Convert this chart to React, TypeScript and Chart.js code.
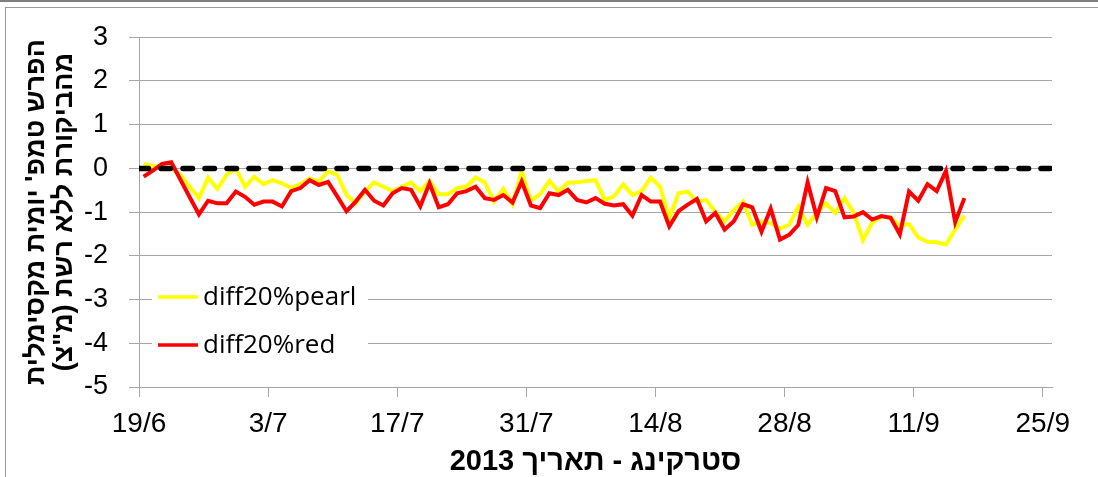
import { useEffect, useRef } from "react";
import { Chart, registerables } from "chart.js";

Chart.register(...registerables);

// Days counted from 19/6/2013 (day 0). Excel's date axis centres each day's point inside its day slot.
const tickDays = [0, 14, 28, 42, 56, 70, 84, 98];
const tickLabels = ["19/6", "3/7", "17/7", "31/7", "14/8", "28/8", "11/9", "25/9"];
const axisStartDay = 0;
const axisEndDay = 99;
const yMin = -5;
const yMax = 3;

const seriesNames = ["diff20%pearl", "diff20%red"];

const pearlValues = [
  0.1, 0.06, 0.04, 0.0, -0.15, -0.42, -0.68, -0.21, -0.47, -0.15,
  0.0, -0.42, -0.19, -0.36, -0.27, -0.34, -0.45, -0.36, -0.23, -0.3,
  -0.07, -0.15, -0.61, -0.8, -0.53, -0.32, -0.42, -0.52, -0.42, -0.32,
  -0.52, -0.29, -0.59, -0.59, -0.45, -0.42, -0.21, -0.32, -0.76, -0.47,
  -0.82, -0.06, -0.74, -0.59, -0.29, -0.53, -0.33, -0.32, -0.29, -0.27,
  -0.72, -0.64, -0.36, -0.61, -0.52, -0.21, -0.42, -1.14, -0.57, -0.53,
  -0.76, -0.72, -1.0, -1.21, -0.95, -0.76, -1.29, -1.21, -1.25, -1.38,
  -1.29, -0.87, -1.29, -1.02, -0.8, -1.02, -0.68, -1.02, -1.64, -1.24,
  -1.1, -1.12, -1.32, -1.27, -1.58, -1.68, -1.69, -1.74, -1.4, -1.08,
];

const redValues = [
  -0.19, -0.05, 0.1, 0.14, -0.26, -0.66, -1.05, -0.74, -0.8, -0.8,
  -0.53, -0.65, -0.83, -0.76, -0.76, -0.87, -0.52, -0.45, -0.27, -0.38,
  -0.31, -0.64, -0.98, -0.76, -0.49, -0.74, -0.85, -0.57, -0.45, -0.49,
  -0.87, -0.34, -0.89, -0.82, -0.57, -0.52, -0.42, -0.68, -0.72, -0.61,
  -0.78, -0.3, -0.85, -0.91, -0.57, -0.61, -0.49, -0.72, -0.78, -0.68,
  -0.81, -0.85, -0.82, -1.08, -0.61, -0.76, -0.76, -1.33, -0.98, -0.83,
  -0.7, -1.21, -1.02, -1.4, -1.21, -0.82, -0.89, -1.45, -0.92, -1.63,
  -1.52, -1.29, -0.32, -1.12, -0.45, -0.52, -1.12, -1.1, -1.0, -1.17,
  -1.09, -1.13, -1.51, -0.53, -0.74, -0.36, -0.52, -0.06, -1.23, -0.68,
];

const zeroLineDays = [0, 99];
const zeroLineValues = [0, 0];

const yTitleLines = ["הפרש טמפ' יומית מקסימלית", "\u200Fמהביקורת ללא רשת (מ\"צ)\u200F"];
const xTitle = "\u200Fסטרקינג - תאריך 2013\u200F";

const PEARL = "#FFFF00";
const RED = "#FF0000";
const GRID = "#a6a6a6";
const SANS = "'Liberation Sans', Arial, 'DejaVu Sans', sans-serif";

const toPoints = (vals: number[]) => vals.map((v, i) => ({ x: i + 0.5, y: v }));

const insideLegend = {
  id: "insideLegend",
  afterDraw(chart: any) {
    const ctx = chart.ctx as CanvasRenderingContext2D;
    const items = [
      { label: seriesNames[0], color: PEARL },
      { label: seriesNames[1], color: RED },
    ];
    ctx.save();
    ctx.fillStyle = "#ffffff";
    ctx.fillRect(152, 272, 216, 96);
    items.forEach((it, i) => {
      const y = 297 + i * 48;
      ctx.strokeStyle = it.color;
      ctx.lineWidth = 3.5;
      ctx.beginPath();
      ctx.moveTo(158, y);
      ctx.lineTo(198, y);
      ctx.stroke();
      ctx.fillStyle = "#000000";
      ctx.font = "26px 'Open Sans', 'Noto Sans', sans-serif";
      ctx.textBaseline = "middle";
      ctx.textAlign = "left";
      ctx.fillText(it.label, 203, y + 1);
    });
    ctx.restore();
  },
};

export default function App() {
  const ref = useRef<HTMLCanvasElement | null>(null);

  useEffect(() => {
    if (!ref.current) return;
    const chart = new Chart(ref.current, {
      type: "line",
      data: {
        datasets: [
          {
            label: seriesNames[0],
            data: toPoints(pearlValues),
            borderColor: PEARL,
            borderWidth: 4,
            pointRadius: 0,
            tension: 0,
            order: 3,
          },
          {
            label: seriesNames[1],
            data: toPoints(redValues),
            borderColor: RED,
            borderWidth: 4,
            pointRadius: 0,
            tension: 0,
            order: 2,
          },
          {
            label: "zero",
            data: zeroLineDays.map((d, i) => ({ x: d, y: zeroLineValues[i] })),
            borderColor: "#000000",
            borderWidth: 5.5,
            borderDash: [9.5, 12.5],
            borderCapStyle: "round",
            pointRadius: 0,
            order: 1,
          },
        ],
      },
      options: {
        animation: false,
        responsive: false,
        devicePixelRatio: 1,
        layout: { padding: { left: 0, top: 35, right: 46, bottom: 0 } },
        plugins: {
          legend: { display: false },
          tooltip: { enabled: false },
        },
        scales: {
          x: {
            type: "linear",
            min: axisStartDay,
            max: axisEndDay,
            afterBuildTicks: (s: any) => {
              s.ticks = tickDays.map((v) => ({ value: v }));
            },
            afterFit: (s: any) => {
              s.height = 90;
            },
            grid: {
              display: true,
              drawOnChartArea: false,
              drawTicks: true,
              tickLength: 10,
              color: GRID,
            },
            border: { display: true, color: GRID, width: 1 },
            ticks: {
              autoSkip: false,
              maxRotation: 0,
              padding: 10,
              color: "#000",
              font: { family: SANS, size: 28, lineHeight: 1.2 },
              callback: (v: any) => {
                const i = tickDays.indexOf(Number(v));
                return i >= 0 ? tickLabels[i] : "";
              },
            },
            title: {
              display: true,
              text: xTitle,
              color: "#000",
              font: { family: SANS, size: 29, weight: "bold", lineHeight: 1 },
              padding: { top: 0, bottom: 0.5 },
            },
          },
          y: {
            min: yMin,
            max: yMax,
            afterFit: (s: any) => {
              s.width = 139;
            },
            grid: {
              display: true,
              drawOnChartArea: true,
              drawTicks: true,
              tickLength: 10,
              color: GRID,
            },
            border: { display: true, color: GRID, width: 1 },
            ticks: {
              stepSize: 1,
              padding: 21,
              color: "#000",
              font: { family: SANS, size: 27 },
            },
            title: {
              display: true,
              text: yTitleLines,
              color: "#000",
              font: { family: SANS, size: 27, weight: "bold", lineHeight: 1.037 },
              padding: { top: 23, bottom: 0 },
            },
          },
        },
      },
      plugins: [insideLegend],
    });
    return () => chart.destroy();
  }, []);

  return (
    <div
      style={{
        position: "fixed",
        left: 0,
        top: 0,
        width: 1098,
        height: 477,
        background: "#ffffff",
        overflow: "hidden",
      }}
    >
      <div style={{ position: "absolute", left: 0, top: 0, width: 1098, height: 2, background: "#7f7f7f" }} />
      <div style={{ position: "absolute", left: 5, top: 7, width: 1093, height: 1, background: "#9a9a9a" }} />
      <div style={{ position: "absolute", left: 5, top: 7, width: 1, height: 470, background: "#9a9a9a" }} />
      <canvas
        ref={ref}
        width={1098}
        height={477}
        style={{ position: "absolute", left: 0, top: 0, width: 1098, height: 477 }}
      />
    </div>
  );
}
